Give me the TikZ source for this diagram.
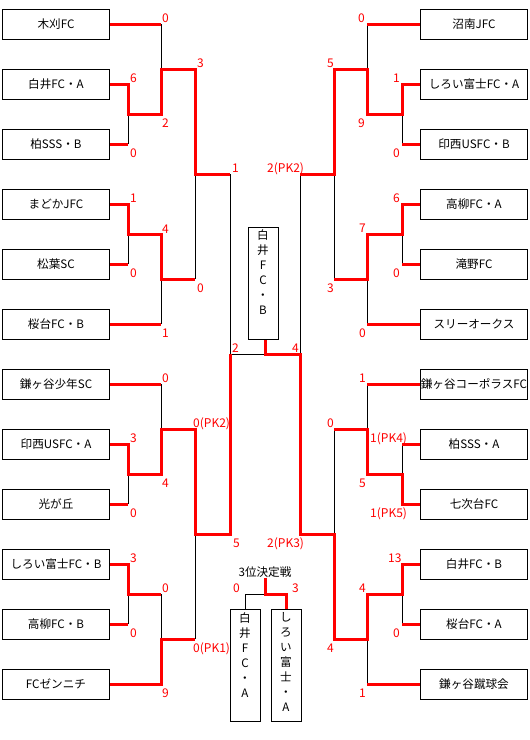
\documentclass[tikz,border=0pt]{standalone}
\usepackage{fontspec}
\newfontfamily\jp{Noto Sans CJK JP}
\usepackage{tikz}
\usetikzlibrary{positioning}
\newcommand{\teamfont}{\fontsize{11.6pt}{15pt}\selectfont\jp}
\newcommand{\scorefont}{\fontsize{12pt}{14pt}\selectfont\jp}

\begin{document}
\begin{tikzpicture}[x=1pt, y=-1pt,
  team/.style={draw, line width=1pt, minimum width=107pt, minimum height=30pt, inner sep=0pt, font=\teamfont},
  vbox/.style={draw, line width=1pt, minimum width=30pt, minimum height=112pt, inner sep=0pt},
  vtext/.style={align=center, inner sep=0pt, font=\teamfont},
  win/.style={red, line width=3pt},
  lose/.style={black, line width=1pt},
  score/.style={text=red, inner sep=0pt, anchor=base west, font=\scorefont}
]
  \useasboundingbox (0,0) rectangle (530,740);

  % teams
  \foreach \tm [count=\i] in {木刈FC, 白井FC・A, 柏SSS・B, まどかJFC, 松葉SC, 桜台FC・B,
      鎌ヶ谷少年SC, 印西USFC・A, 光が丘, しろい富士FC・B, 高柳FC・B, FCゼンニチ}
    \node[team] (L\i) at (56,{24+60*(\i-1)}) {\tm};
  \foreach \tm [count=\i] in {沼南JFC, しろい富士FC・A, 印西USFC・B, 高柳FC・A, 滝野FC, スリーオークス,
      鎌ヶ谷コーポラスFC, 柏SSS・A, 七次台FC, 白井FC・B, 桜台FC・A, 鎌ヶ谷蹴球会}
    \node[team] (R\i) at (474,{24+60*(\i-1)}) {\tm};

  % winner and 3rd place boxes
  \node[vbox] (champ) at (263,283) {};
  \node[vtext, below=3pt of champ.north] (champtxt) {白\\井\\F\\C\\・\\B};
  \node[vtext] (third) at (265,572) {3位決定戦};
  \node[vbox] (thA) at (245,665) {};
  \node[vtext, below=4pt of thA.north] (thAtxt) {白\\井\\F\\C\\・\\A};
  \node[vbox] (thB) at (286,665) {};
  \node[vtext, below=4pt of thB.north] (thBtxt) {し\\ろ\\い\\富\\士\\・\\A};

  % bracket joints
  \coordinate (k1) at (128,114);  \coordinate (k2) at (161,69);
  \coordinate (k3) at (128,234);  \coordinate (k4) at (161,279);
  \coordinate (k5) at (195,174);
  \coordinate (k6) at (128,474);  \coordinate (k7) at (161,429);
  \coordinate (k8) at (128,594);  \coordinate (k9) at (161,639);
  \coordinate (k10) at (195,534); \coordinate (k11) at (230,354);
  \coordinate (r1) at (402,114);  \coordinate (r2) at (367,69);
  \coordinate (r3) at (402,234);  \coordinate (r4) at (367,279);
  \coordinate (r5) at (334,174);
  \coordinate (r6) at (402,474);  \coordinate (r7) at (367,429);
  \coordinate (r8) at (402,594);  \coordinate (r9) at (367,639);
  \coordinate (r10) at (334,534); \coordinate (r11) at (300,354);
  \coordinate (fin) at (265,354);
  \coordinate (tj) at (265,594);

  % left half
  \draw[lose] (L1.east -| k2) -- (k2);
  \draw[lose] (L3.east -| k1) -- (k1);
  \draw[lose] (L5.east -| k3) -- (k3);
  \draw[lose] (L6.east -| k4) -- (k4);
  \draw[lose] (k4 -| k5) -- (k5);
  \draw[lose] (k5 -| k11) -- (k11);
  \draw[lose] (L7.east -| k7) -- (k7);
  \draw[lose] (L9.east -| k6) -- (k6);
  \draw[lose] (L11.east -| k8) -- (k8);
  \draw[lose] (k8 -| k9) -- (k9);
  \draw[lose] (k9 -| k10) -- (k10);
  \draw[lose] (k11) -- (fin);
  \draw[win] (L1.east) -- (L1.east -| k2);
  \draw[win] (L2.east) -| (k1) -| (k2) -| (k5) -- (k5 -| k11);
  \draw[win] (L3.east) -- (L3.east -| k1);
  \draw[win] (L4.east) -| (k3) -| (k4) -- (k4 -| k5);
  \draw[win] (L5.east) -- (L5.east -| k3);
  \draw[win] (L6.east) -- (L6.east -| k4);
  \draw[win] (L7.east) -- (L7.east -| k7);
  \draw[win] (L8.east) -| (k6) -| (k7) -| (k10) -| (k11);
  \draw[win] (L9.east) -- (L9.east -| k6);
  \draw[win] (L10.east) -| (k8) -- (k8 -| k9);
  \draw[win] (L11.east) -- (L11.east -| k8);
  \draw[win] (L12.east) -| (k9) -- (k9 -| k10);

  % right half
  \draw[lose] (R1.west -| r2) -- (r2);
  \draw[lose] (R3.west -| r1) -- (r1);
  \draw[lose] (R5.west -| r3) -- (r3);
  \draw[lose] (R6.west -| r4) -- (r4);
  \draw[lose] (r4 -| r5) -- (r5);
  \draw[lose] (r5 -| r11) -- (r11);
  \draw[lose] (R7.west -| r7) -- (r7);
  \draw[lose] (R8.west -| r6) -- (r6);
  \draw[lose] (R11.west -| r8) -- (r8);
  \draw[lose] (R12.west -| r9) -- (r9);
  \draw[lose] (r7 -| r10) -- (r10);
  \draw[win] (R1.west) -- (R1.west -| r2);
  \draw[win] (R2.west) -| (r1) -| (r2) -| (r5) -- (r5 -| r11);
  \draw[win] (R3.west) -- (R3.west -| r1);
  \draw[win] (R4.west) -| (r3) -| (r4) -- (r4 -| r5);
  \draw[win] (R5.west) -- (R5.west -| r3);
  \draw[win] (R6.west) -- (R6.west -| r4);
  \draw[win] (R7.west) -- (R7.west -| r7);
  \draw[win] (R8.west) -- (R8.west -| r6);
  \draw[win] (R9.west) -| (r6) -| (r7) -- (r7 -| r10);
  \draw[win] (R10.west) -| (r8) -| (r9) -| (r10) -| (r11) -- (fin) -- (fin |- champ.south);
  \draw[win] (R11.west) -- (R11.west -| r8);
  \draw[win] (R12.west) -- (R12.west -| r9);

  % 3rd place match
  \draw[lose] (tj) -| (thA.north);
  \draw[win] (third.south) -- (tj) -| (thB.north);

  % scores
  \foreach \x/\y/\s [count=\i] in {162/22/0, 130/82/6, 130/157/0, 162/127/2, 197/67/3,
      130/202/1, 130/277/0, 162/233/4, 162/337/1, 197/292/0, 232/172/1, 232/352/2,
      162/382/0, 130/442/3, 130/517/0, 162/487/4, 193/427/0(PK2), 233/547/5,
      130/562/3, 130/637/0, 162/592/0, 162/697/9, 193/652/0(PK1),
      358/22/0, 393/82/1, 393/157/0, 358/127/9, 327/67/5, 267/172/2(PK2),
      393/202/6, 393/277/0, 359/232/7, 359/337/0, 327/292/3, 292/352/4,
      359/382/1, 327/427/0, 370/442/1(PK4), 359/487/5, 370/517/1(PK5), 267/547/2(PK3),
      388/562/13, 393/637/0, 359/592/4, 359/697/1, 327/652/4,
      233/592/0, 292/592/3}
    \node[score] (sc\i) at (\x,\y) {\s};
\end{tikzpicture}
\end{document}
